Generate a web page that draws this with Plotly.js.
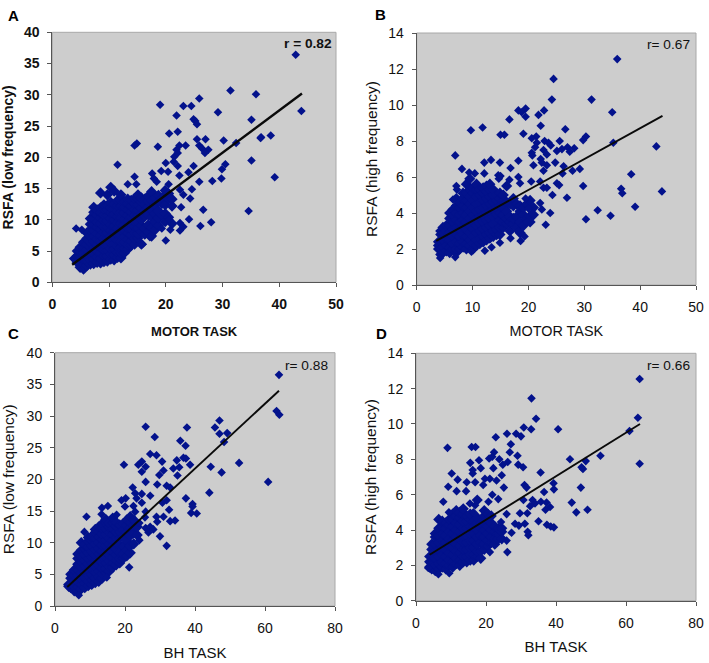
<!DOCTYPE html>
<html><head><meta charset="utf-8">
<script src="https://cdn.plot.ly/plotly-3.0.1.min.js"></script>
<style>html,body{margin:0;padding:0;background:#fff}#c{width:709px;height:663px}</style>
</head><body><div id="c"></div>
<script>
// Scattered points: [x, y]
const outliersA=[[42.9,36.4],[43.9,27.4],[31.4,30.7],[35.9,30.1],[25.9,29.4],[19,28.4],[23.1,28.2],[24.5,28.2],[29.2,27.2],[21.9,26.7],[24.9,26.1],[25.2,25.8],[25.5,25.3],[35.1,26],[20.6,23.8],[22.1,24.1],[36.8,23.2],[36.7,23.1],[38.5,23.5],[25.5,22.9],[27,22.9],[30.2,22.7],[32.4,22.3],[14.9,22.2],[14.5,21.9],[18.6,21.7],[22.4,21.9],[23.5,21.9],[25.9,21.9],[26.4,21.4],[27.5,21.2],[26.9,20.7],[21.9,21.2],[21.5,20.1],[22.1,20.7],[35.1,19.5],[11.5,18.8],[20,19.1],[21.4,19.3],[22.1,18.6],[24.9,18.6],[30.5,18.9],[29.9,18.1],[39.2,16.8],[19.2,17.8],[20.4,17.7],[17.6,17.4],[22.4,17.1],[24,17.6],[14.5,16.9],[28.2,16.2],[29.8,16.6],[25.9,16.1],[20.5,15.7],[13.3,15.7],[14.8,15.7],[18.4,16.1],[17.9,16.6],[24.6,14.9],[22.5,14.8],[23.1,14],[24.3,13.4],[34.6,11.4],[26.6,11.6],[22.7,12],[28,9.6],[26.1,9],[20,6.7],[24.1,10.1],[22.5,9.5],[23.1,8.9],[22.5,8.3],[20.8,8.4],[20.6,10],[19.3,8.6],[17.2,7.2],[15.9,6.1],[4.2,8.6],[5.2,8.4]];
const outliersB=[[35.9,12.55],[24.5,11.45],[31.3,10.3],[24.2,10.3],[35,9.6],[18.2,9.7],[19.5,9.8],[18.8,9.6],[19.5,9.35],[22.8,9.7],[21.8,9.45],[16.6,9.2],[22.2,8.85],[11.8,8.75],[9.7,8.6],[26.6,8.65],[15,8.35],[15.7,8.35],[19.1,8.4],[21.4,8.25],[20.6,8.15],[30.3,8.25],[29.8,8.05],[35.2,7.9],[42.9,7.7],[25.6,8],[22.9,8],[23.6,7.9],[24,7.75],[21.5,7.9],[21.2,7.65],[20.6,7.35],[20.7,7.2],[22.7,7.5],[25.1,7.45],[26,7.55],[27,7.65],[27.4,7.4],[28.2,7.6],[6.9,7.2],[23.3,7.25],[22.2,7],[24.8,6.8],[22.4,6.8],[23.3,6.65],[20.9,6.65],[18.2,6.9],[13.3,6.95],[12.1,6.8],[14.9,6.8],[16.8,6.5],[8.1,6.45],[26.3,6.6],[29.2,6.45],[27.9,6.35],[22.7,6.35],[26.1,6.2],[10.4,6.2],[12.1,6.2],[9.4,6.25],[14.6,6.1],[18.2,6],[20.5,5.75],[16.6,5.85],[18.5,5.65],[22.1,5.75],[29.8,5.5],[38.4,6.15],[25.1,5.65],[25.5,5.55],[22.7,5.4],[23.3,5.4],[36.6,5.35],[36.8,5.1],[43.9,5.2],[24.3,5],[26.9,4.85],[19.5,4.8],[39.1,4.35],[32.4,4.15],[34.7,3.85],[30.3,3.65],[23.9,4],[23.1,3.35],[22.1,4.55],[22.4,4.2],[20,4.25],[20.6,4],[19.7,3.5],[19.3,2.7],[18.6,2.45],[16.8,2.6],[18.2,3],[14.9,2.35],[13.4,2.1],[12.2,1.9],[9.8,1.85],[6.9,1.55],[4.2,1.5],[7.1,5.5],[7.2,5.3],[6.5,4.75],[14.7,5.9],[15,6.05]];
const outliersC=[[64,36.5],[63.3,30.8],[64.1,30.2],[25.9,28.3],[28.5,26.7],[37.7,28.2],[47,29.3],[45.7,28.2],[47,27.2],[49.2,27.3],[48.3,25.9],[35.8,26.1],[37.3,25.3],[27.2,24],[29,23.8],[30.6,22.8],[34.8,23],[36.7,23.4],[37.4,23.3],[38.6,22.3],[52.6,22.6],[19.7,22.3],[24.8,22.8],[23.8,22.3],[25.9,22],[24.8,21.2],[44.5,22],[47.6,21.1],[31,21.4],[29.8,20.7],[33.8,21.7],[35.5,21.9],[35,20.6],[60.9,19.6],[25.9,19.6],[29.2,19.2],[31.9,19],[32.9,18.7],[22.2,18.7],[44.1,17.9],[27.2,17.4],[22.9,17.8],[24.8,17.7],[37.4,17],[23.3,17],[20.2,17],[19,16.7],[31.9,16.7],[30.7,16.3],[39.3,16.1],[39.3,15.7],[32.6,15.2],[38.9,14.7],[40.5,14.6],[13.4,15.5],[15.1,15.8],[20,15.7],[24.8,16.3],[9,14.1],[25.9,14.9],[13.3,14.5],[17.6,14.4],[22.4,15.8],[22.9,14.9],[29,14.1],[31,14.1],[29.2,13.3],[32.9,13.4],[34.3,13.5],[25.7,14],[24.1,13.1],[25.9,12.3],[27.2,12.5],[28.1,12.1],[26.7,11.6],[8.4,11.7],[24.1,10.4],[30,11],[31.9,9.5],[21.2,6.1],[6.8,1.7],[14.8,4.5]];
const outliersD=[[63.9,12.55],[63.4,10.35],[63.9,7.75],[61,9.6],[52.7,8.2],[33,11.45],[34.3,10.3],[32.9,9.7],[30.8,9.8],[40.6,9.7],[26,9.45],[22.8,9.25],[28.6,9.45],[30,9.3],[9,8.65],[15.9,8.7],[17,8.7],[27.1,8.85],[22.3,8.4],[26.8,8.4],[29,8.2],[44,8],[48.5,7.9],[47.3,7.55],[47.7,7.45],[18,7.95],[15.5,7.8],[20.9,8.05],[21.8,8.15],[23.8,8],[24.8,7.7],[26.2,7.85],[29.2,7.7],[30.6,7.55],[22.1,7.5],[18.5,7.5],[16.2,7.4],[16.2,7.2],[35.6,7.25],[10.2,7.2],[24.5,7.1],[11.9,6.85],[14.5,6.7],[16.9,6.7],[21.1,6.9],[19.7,6.9],[23,6.8],[9.2,6.45],[25.1,6.4],[31,6.55],[31.6,6.4],[39.3,6.65],[39.4,6.3],[47.1,6.4],[36.6,6.15],[14.3,6.2],[11.6,6.2],[19.2,6.55],[21.8,6],[20.7,5.6],[23.5,5.75],[44.5,5.55],[49,5.15],[45.8,5],[30.7,5.7],[33.3,5.7],[34,5.5],[35.7,5.6],[37.3,5.55],[38.3,5.3],[37,5.15],[32.6,5.35],[29.7,4.95],[31.8,4.95],[25.9,4.9],[35,4.5],[37.4,4.3],[38.5,4.2],[39.4,4.15],[31.1,4.35],[28.3,4.35],[29.4,4.25],[31.9,3.9],[32.1,3.7],[27.3,3.85],[25.9,3.4],[26.1,2.75],[21.1,2.75],[24.3,4.45],[7.8,5.6],[9.4,5],[16.9,5.4],[15.4,5.5],[16.4,5],[9.5,1.55],[6.4,1.5],[3.5,1.85]];

// Dense clouds read column by column: [x, [y, y, ...]]
const cloudA=[[3.9,[3.8]],[4.4,[3.2,4.2,5]],[4.9,[2.4,3.1,4,4.9,5.6]],[5.5,[2.1,2.8,3.7,4.7,5.5,6.4]],[6.1,[2.7,3.4,4.3,5.2,6.1,7,7.9]],[6.7,[2.9,3.6,4.6,5.6,6.4,7.4,8.4,9.3,10.2]],[7.3,[3,3.7,4.6,5.5,6.5,7.4,8.3,9.2,10.2,11.2,12]],[7.9,[3.2,4,5,6,6.9,7.8,8.8,9.7,10.8,11.6]],[8.5,[3.1,3.8,4.7,5.6,6.6,7.5,8.4,9.4,10.3,11.2,11.9,14.3]],[9.1,[3.3,4.2,5.2,6.1,7,8,8.9,9.9,10.8,11.7,12.4]],[9.7,[3.4,4.2,5.1,6,7,7.9,8.8,9.8,10.7,11.6,12.3,14]],[10.3,[3.7,4.5,5.4,6.4,7.3,8.3,9.2,10.2,11.1,12,12.8,15.2]],[10.9,[3.6,4.4,5.3,6.2,7.2,8.1,9,10,10.9,11.8,12.5,14.6]],[11.5,[4,4.8,5.8,6.7,7.7,8.6,9.5,10.5,11.4,12.3,13.1]],[12.1,[3.9,4.7,5.6,6.5,7.5,8.4,9.4,10.3,11.2,12.2,13.1,14]],[12.7,[4.7,5.4,6.4,7.3,8.3,9.2,10.1,11.1,12,12.9]],[13.3,[5.3,6,6.9,7.9,8.8,9.8,10.7,11.6,12.6,13.3]],[13.9,[5.9,6.6,7.6,8.5,9.4,10.4,11.3,12.2,13.1]],[14.5,[6.1,7,7.9,8.9,9.8,10.7,11.7,12.6,13.4]],[15.1,[7.1,7.8,8.7,9.6,10.6,11.5,12.4,13.4,14]],[15.7,[6.1,8.1,9.1,10,11,11.9,12.9,13.5]],[16.3,[7.7,8.6,10.6,11.5,12.4,13.3]],[16.9,[8.1,9.2,10.8,12,13,13.8]],[17.5,[7.4,8.8,10.4,11.6,13.1,14.5]],[18.1,[8.4,9.7,11,12.4,13.5]],[18.7,[9.1,10.3,11.4,12.9,13.9]],[19.3,[10.8,12.6,13.5]],[19.9,[9.7,11,12.4,13.8,14.7]],[20.5,[10.4,13.4,14.2]],[21.1,[9.4,12.2,13.3]]];
const cloudB=[[3.9,[2,2.2,2.4]],[4.3,[1.7,2,2.4,2.8,3]],[4.7,[1.8,2.1,2.5,2.9,3.2]],[5.3,[1.9,2.2,2.6,3,3.3]],[5.9,[1.8,2.1,2.5,2.9,3.3,3.7,4]],[6.5,[2,2.3,2.7,3.1,3.5,3.9,4.2]],[7.1,[1.8,2,2.4,2.8,3.2,3.6,4,4.4,4.8]],[7.7,[2,2.3,2.7,3.1,3.5,3.9,4.3,4.6]],[8.3,[2.1,2.4,2.8,3.2,3.6,4,4.4,4.8,5.1]],[8.9,[2,2.3,2.7,3.1,3.5,3.9,4.3,4.7,5.1,5.6]],[9.5,[2.2,2.5,2.9,3.3,3.7,4.1,4.5,4.9,5.3,5.9]],[10.1,[2,2.3,2.7,3.1,3.5,3.9,4.3,4.7,5.1,5.4]],[10.7,[2.2,2.5,2.9,3.3,3.7,4.1,4.5,4.9,5.3,5.6]],[11.3,[2.3,2.6,3,3.4,3.8,4.2,4.6,5,5.3]],[11.9,[2.4,2.7,3.1,3.5,3.9,4.3,4.7,5.1,5.4]],[12.5,[2.5,2.8,3.2,3.6,4,4.4,4.8,5.2,5.5]],[13.1,[2.6,2.9,3.3,3.7,4.1,4.5,4.9,5.3,5.6]],[13.7,[2.7,3,3.4,3.8,4.2,4.6,5,5.3]],[14.3,[2.8,3.1,3.5,3.9,4.3,4.7,5]],[14.9,[2.8,3.2,3.6,4,4.4,4.8,5.1]],[15.5,[3.2,3.5,3.9,4.3,4.7,5]],[16.1,[3.4,3.7,4.1,4.6,5.5]],[16.7,[3,3.5,3.8,4.5]],[17.3,[3.4,3.7,4.4,4.8]],[17.9,[3.2,3.8,4.5]],[18.5,[2.9,3.5,4.1,4.4]],[19.1,[3.3,3.9,4.3]],[19.7,[3.7,4.5]],[20.3,[3.5,3.8,4.7]],[20.9,[3.9,4.3]]];
const cloudC=[[3.9,[3.1,3.4]],[4.5,[2.9,3.5,4.4,5]],[5.5,[2.4,3.1,4,4.9,5.7]],[6.5,[2.4,3,3.9,4.8,5.7,6.6,7.5,8.2]],[7.5,[2.7,3.4,4.3,5.2,6.1,7,7.9,8.8,10]],[8.5,[2.9,3.6,4.5,5.4,6.3,7.2,8.1,9,9.7]],[9.5,[3.2,3.9,4.8,5.7,6.6,7.5,8.4,9.3,10.2,10.8]],[10.5,[3.4,4.1,5,5.9,6.8,7.7,8.6,9.5,10.4,11]],[11.5,[3.7,4.4,5.3,6.2,7.1,8,8.9,9.8,10.7,11.6,12.1]],[12.5,[3.9,4.6,5.5,6.4,7.3,8.2,9.1,10,10.9,11.8,12.5]],[13.5,[4.4,5.1,6,6.9,7.8,8.7,9.6,10.5,11.4,12.3,13]],[14.5,[5.2,5.9,6.8,7.7,8.6,9.5,10.4,11.3,12.2,13.1,13.7]],[15.5,[5.5,6.2,7.1,8,8.9,9.8,10.7,11.6,12.5,13.1]],[16.5,[6.1,6.8,7.7,8.6,9.5,10.4,11.3,12.2,13.1,13.9]],[17.5,[6.5,7.2,8.1,9,9.9,10.8,11.7,12.6,13.2]],[18.5,[6.8,7.5,8.4,9.6,10.7,11.7,12.8]],[19.5,[7.5,8.2,9.4,10.9,12,13]],[20.5,[7.9,8.8,10.3,11.6,12.7,13.6]],[21.5,[8.4,9.5,11.1,12.4,13.2,14.1]],[22.5,[9.8,11.5,12.7,13.6]],[23.5,[11.2,12.5]]];
const cloudD=[[3.9,[1.9,2.2,2.5]],[4.5,[1.8,2.1,2.5,2.9,3.2]],[5.5,[1.7,2,2.4,2.8,3.2,3.6,3.8]],[6.5,[1.8,2.1,2.5,2.9,3.3,3.7,4.1,4.6]],[7.5,[1.9,2.2,2.6,3,3.4,3.8,4.2,4.5]],[8.5,[1.8,2.1,2.5,2.9,3.3,3.7,4.1,4.4]],[9.5,[2,2.3,2.7,3.1,3.5,3.9,4.3,4.6]],[10.5,[1.9,2.2,2.6,3,3.4,3.8,4.2,4.6,4.9]],[11.5,[2.1,2.4,2.8,3.2,3.6,4,4.4,4.8,5.1]],[12.5,[2,2.3,2.7,3.1,3.5,3.9,4.3,4.7,5]],[13.5,[2.2,2.5,2.9,3.3,3.7,4.1,4.5,4.9,5.2]],[14.5,[2.2,2.5,2.9,3.3,3.7,4.1,4.5,4.8]],[15.5,[2.3,2.6,3,3.4,3.8,4.2,4.6,4.9]],[16.5,[2.3,2.6,3,3.4,3.8,4.2,4.5]],[17.5,[2.5,2.8,3.2,3.6,4,4.4,4.7,5.7]],[18.5,[2.4,2.8,3.3,3.7,4.1,4.4]],[19.5,[2.9,3.2,3.6,4,4.4,4.8,5.1]],[20.5,[3.1,3.4,3.8,4.2,4.6,4.9]],[21.5,[3.3,3.6,4,4.4,4.8]],[22.5,[3.2,3.5,3.9,4.2]],[23.5,[3.5,3.8,4.1]],[24.5,[3.5,3.9,4.1]]];

// Fitted lines: end points
const lineAx=[3.5,44], lineAy=[2.8,30.2];
const lineBx=[3.5,44], lineBy=[2.45,9.4];
const lineCx=[3.5,64], lineCy=[3.0,34];
const lineDx=[3.9,64], lineDy=[2.6,10];

const panelLetters=['A','B','C','D'];
const rLabels=['r = 0.82','r= 0.67','r= 0.88','r= 0.66'];
const xTitles=['MOTOR TASK','MOTOR TASK','BH TASK','BH TASK'];
const yTitles=['RSFA (low frequency)','RSFA (high frequency)','RSFA (low frequency)','RSFA (high frequency)'];
const xRanges=[[0,50],[0,50],[0,80],[0,80]];
const yRanges=[[0,40],[0,14],[0,40],[0,14]];
const xSteps=[10,10,20,20];
const ySteps=[5,2,5,2];

const W=709,H=663,FONT='"Liberation Sans", Arial, sans-serif';
// plot boxes in pixels: left,right,top,bottom
const boxes=[[52.3,336,32.3,282.3],[416.7,696,33,285],[55,335,352.7,606],[416,696,353.3,600.7]];
const letterPos=[[13,15],[380,14],[13,333],[381,333]];
const rPos=[[334,44],[692,45],[330,365],[692,365]];
const xStandoff=[15,12,12,11];
const yStandoff=[10,6,9,7];
const bold=[true,false,false,false];

const outliers=[outliersA,outliersB,outliersC,outliersD];
const clouds=[cloudA,cloudB,cloudC,cloudD];
const linesX=[lineAx,lineBx,lineCx,lineDx], linesY=[lineAy,lineBy,lineCy,lineDy];
const xFont=[13,14.4,15,15], yFont=[14,15.5,15.5,15.5];

const traces=[],layout={width:W,height:H,margin:{l:0,r:0,t:0,b:0},paper_bgcolor:'#fff',plot_bgcolor:'#cdcdcd',showlegend:false,annotations:[],shapes:[],font:{family:FONT,color:'#111'}};
for(let i=0;i<4;i++){
  const cloudPts=[];
  clouds[i].forEach(c=>c[1].forEach(y=>cloudPts.push([c[0],y])));
  const pts=outliers[i];
  const n=i+1,s=i===0?'':String(n),b=boxes[i];
  traces.push({type:'scatter',mode:'markers',xaxis:'x'+s,yaxis:'y'+s,x:cloudPts.map(p=>p[0]),y:cloudPts.map(p=>p[1]),
    marker:{symbol:'diamond',size:8.6,color:'#03128c',line:{width:0}},hoverinfo:'skip'});
  traces.push({type:'scatter',mode:'markers',xaxis:'x'+s,yaxis:'y'+s,x:pts.map(p=>p[0]),y:pts.map(p=>p[1]),
    marker:{symbol:'diamond',size:6.6,color:'#03128c',line:{width:0}},hoverinfo:'skip'});
  traces.push({type:'scatter',mode:'lines',xaxis:'x'+s,yaxis:'y'+s,x:linesX[i],y:linesY[i],line:{color:'#0a0a0a',width:i===0?2.4:1.9},hoverinfo:'skip'});
  const w=bold[i]?700:400;
  const axis={showgrid:false,zeroline:false,showline:true,linecolor:'#555',linewidth:1,ticks:'outside',ticklen:4,tickwidth:1,tickcolor:'#555',
    ticklabelstandoff:5,tickfont:{family:FONT,size:14,color:'#111',weight:w},automargin:false,fixedrange:true};
  layout['xaxis'+s]=Object.assign({},axis,{domain:[b[0]/W,b[1]/W],anchor:'y'+s,range:xRanges[i],tick0:0,dtick:xSteps[i],
    title:{text:xTitles[i],standoff:xStandoff[i],font:{family:FONT,size:xFont[i],color:'#111',weight:w}}});
  layout['yaxis'+s]=Object.assign({},axis,{domain:[1-b[3]/H,1-b[2]/H],anchor:'x'+s,range:yRanges[i],tick0:0,dtick:ySteps[i],
    title:{text:yTitles[i],standoff:yStandoff[i],font:{family:FONT,size:yFont[i],color:'#111',weight:w}}});
  layout.shapes.push({type:'rect',xref:'paper',yref:'paper',x0:b[0]/W,x1:b[1]/W,y0:1-b[3]/H,y1:1-b[2]/H,line:{color:'#a8a8a8',width:1},layer:'below'});
  layout.annotations.push({xref:'paper',yref:'paper',x:letterPos[i][0]/W,y:1-letterPos[i][1]/H,text:'<b>'+panelLetters[i]+'</b>',showarrow:false,xanchor:'center',yanchor:'middle',font:{family:FONT,size:15,color:'#000'}});
  layout.annotations.push({xref:'paper',yref:'paper',x:rPos[i][0]/W,y:1-rPos[i][1]/H,text:bold[i]?'<b>'+rLabels[i]+'</b>':rLabels[i],showarrow:false,xanchor:'right',yanchor:'middle',font:{family:FONT,size:13.7,color:'#111'}});
}
Plotly.newPlot('c',traces,layout,{displayModeBar:false,staticPlot:true});
</script></body></html>
